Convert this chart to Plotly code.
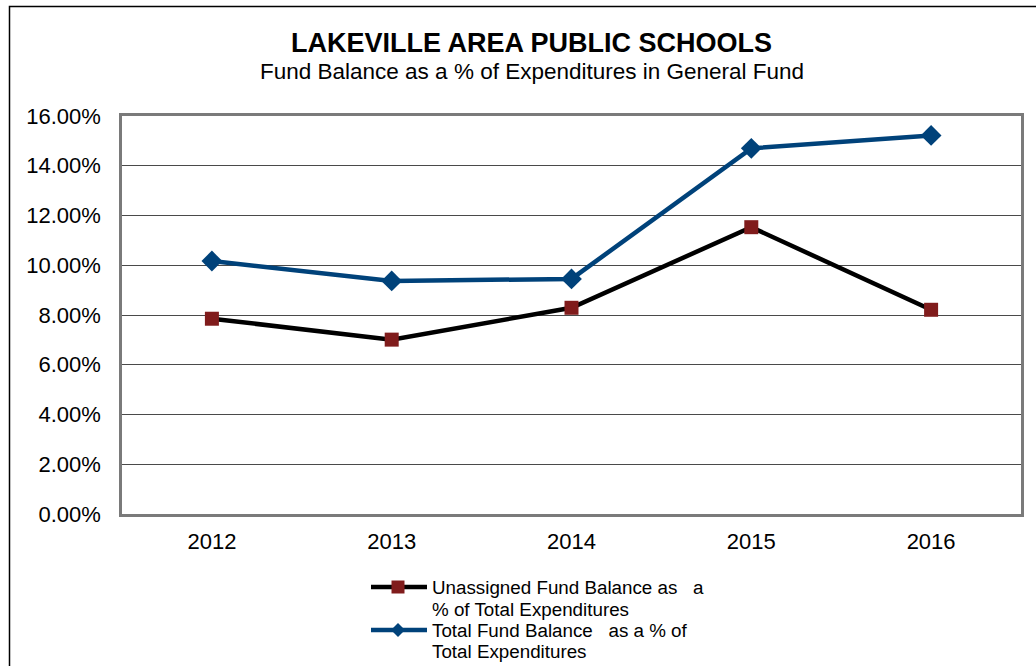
import plotly.graph_objects as go

years = ["2012", "2013", "2014", "2015", "2016"]
unassigned = [7.85, 7.01, 8.29, 11.53, 8.21]
total = [10.17, 9.37, 9.45, 14.70, 15.22]
y_ticks = [0, 2, 4, 6, 8, 10, 12, 14, 16]
legend_lines = [
    ["Unassigned Fund Balance as   a", "% of Total Expenditures"],
    ["Total Fund Balance   as a % of", "Total Expenditures"],
]

W, H = 1036, 666
L, R, T, B = 122, 15, 116, 152

RED = "#801C1C"
BLUE = "#00427A"

fig = go.Figure()
fig.add_trace(go.Scatter(
    x=years, y=[v / 100 for v in unassigned], mode="lines+markers",
    name=" ".join(legend_lines[0]),
    line=dict(color="#000000", width=4.5),
    marker=dict(symbol="square", size=14, color=RED),
))
fig.add_trace(go.Scatter(
    x=years, y=[v / 100 for v in total], mode="lines+markers",
    name=" ".join(legend_lines[1]),
    line=dict(color=BLUE, width=4.5),
    marker=dict(symbol="diamond", size=16, color=BLUE),
))

pw = W - L - R
ph = H - T - B
def px(x):
    return (x - L) / pw
def py(y):
    return (H - B - y) / ph

annotations = [
    dict(text="<b>LAKEVILLE AREA PUBLIC SCHOOLS</b>", x=px(531), y=py(43),
         xref="paper", yref="paper", showarrow=False, yanchor="middle",
         font=dict(size=27, color="#000")),
    dict(text="Fund Balance as a % of Expenditures in General Fund", x=px(532), y=py(72),
         xref="paper", yref="paper", showarrow=False, yanchor="middle",
         font=dict(size=22.5, color="#000")),
]
shapes = [
    dict(type="rect", xref="paper", yref="paper",
         x0=px(9.5), y0=py(672), x1=px(1042), y1=py(6.5),
         line=dict(color="#000", width=1.5), fillcolor="rgba(0,0,0,0)", layer="below"),
]

# manual legend
leg_x0, leg_x1, sym_x, text_x = 371, 427, 398, 430
row_y = [(587, 609), (630, 651)]
for i, (ya, yb) in enumerate(row_y):
    col = "#000000" if i == 0 else BLUE
    shapes.append(dict(type="line", xref="paper", yref="paper",
                       x0=px(leg_x0), x1=px(leg_x1), y0=py(ya), y1=py(ya),
                       line=dict(color=col, width=4.5)))
    if i == 0:
        s = 6.5
        shapes.append(dict(type="rect", xref="paper", yref="paper",
                           x0=px(sym_x - s), x1=px(sym_x + s), y0=py(ya + s), y1=py(ya - s),
                           line=dict(width=0), fillcolor=RED))
    else:
        d = 7
        path = (f"M {px(sym_x - d)} {py(ya)} L {px(sym_x)} {py(ya - d)} "
                f"L {px(sym_x + d)} {py(ya)} L {px(sym_x)} {py(ya + d)} Z")
        shapes.append(dict(type="path", xref="paper", yref="paper", path=path,
                           line=dict(width=0), fillcolor=BLUE))
    for txt, yy in zip(legend_lines[i], (ya, yb)):
        annotations.append(dict(text=txt, x=px(text_x), y=py(yy), xref="paper", yref="paper",
                                xanchor="left", yanchor="middle", showarrow=False,
                                font=dict(size=18.8, color="#000")))

fig.update_layout(
    width=W, height=H,
    margin=dict(l=L, r=R, t=T, b=B, autoexpand=False),
    paper_bgcolor="white", plot_bgcolor="white",
    font=dict(family="Liberation Sans, Arial", color="#000"),
    showlegend=False,
    xaxis=dict(
        type="category", range=[-0.5, 4.5],
        showgrid=False, ticks="", tickfont=dict(size=22),
        showline=True, mirror=True, linecolor="#7a7a7a", linewidth=2.5,
        zeroline=False, ticklabelstandoff=6,
    ),
    yaxis=dict(
        range=[0, 0.16], tickvals=[v / 100 for v in y_ticks],
        tickformat=".2%", tickfont=dict(size=22),
        showgrid=True, gridcolor="#4a4a4a", gridwidth=1.2,
        showline=True, mirror=True, linecolor="#7a7a7a", linewidth=2.5,
        zeroline=False, ticks="", ticklabelstandoff=14,
    ),
    annotations=annotations,
    shapes=shapes,
)

fig.write_html("out.html")
